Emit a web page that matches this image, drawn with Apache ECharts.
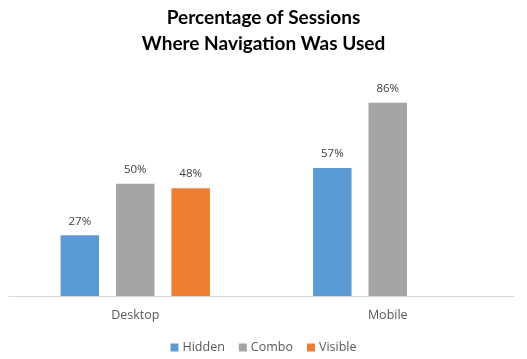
<!DOCTYPE html>
<html><head><meta charset="utf-8">
<script src="https://cdn.jsdelivr.net/npm/echarts@6/dist/echarts.min.js"></script>
<style>html,body{margin:0;padding:0;background:#fff}#c{width:527px;height:359px}</style>
</head><body><div id="c"></div>
<script>
const categories = ['Desktop', 'Mobile'];
const seriesNames = ['Hidden', 'Combo', 'Visible'];
const hidden = [27, 57];
const combo = [50, 86];
const visible = [48, null];
const colors = ['#5B9BD5', '#A5A5A5', '#ED7D31'];
const values = [hidden, combo, visible];

const chart = echarts.init(document.getElementById('c'));
chart.setOption({
  animation: false,
  title: {
    text: 'Percentage of Sessions\nWhere Navigation Was Used',
    left: 'center', top: 0,
    textStyle: { fontFamily: 'Lato', fontWeight: 'bold', fontSize: 19, lineHeight: 26, color: '#000' }
  },
  legend: {
    bottom: 0, left: 'center', itemWidth: 8, itemHeight: 8, itemGap: 14,
    icon: 'rect',
    textStyle: { fontFamily: 'Open Sans', fontSize: 12.5, color: '#595959', padding: [0, 0, 0, -1] },
    data: seriesNames
  },
  grid: { left: 9, right: 13, top: 71.4, bottom: 63 },
  xAxis: {
    type: 'category', data: categories,
    axisLine: { lineStyle: { color: '#D9D9D9', width: 1 } },
    axisTick: { show: false },
    axisLabel: { fontFamily: 'Open Sans', fontSize: 12.5, color: '#595959', margin: 13 }
  },
  yAxis: { type: 'value', min: 0, max: 100, show: false, splitLine: { show: false } },
  series: seriesNames.map((n, i) => ({
    name: n, type: 'bar', data: values[i],
    barWidth: 38.5, barGap: '44%',
    itemStyle: { color: colors[i] },
    label: {
      show: true, position: 'top', distance: 8,
      formatter: p => p.value + '%',
      fontFamily: 'Open Sans', fontSize: 11.5, color: '#404040'
    }
  }))
});
</script></body></html>
